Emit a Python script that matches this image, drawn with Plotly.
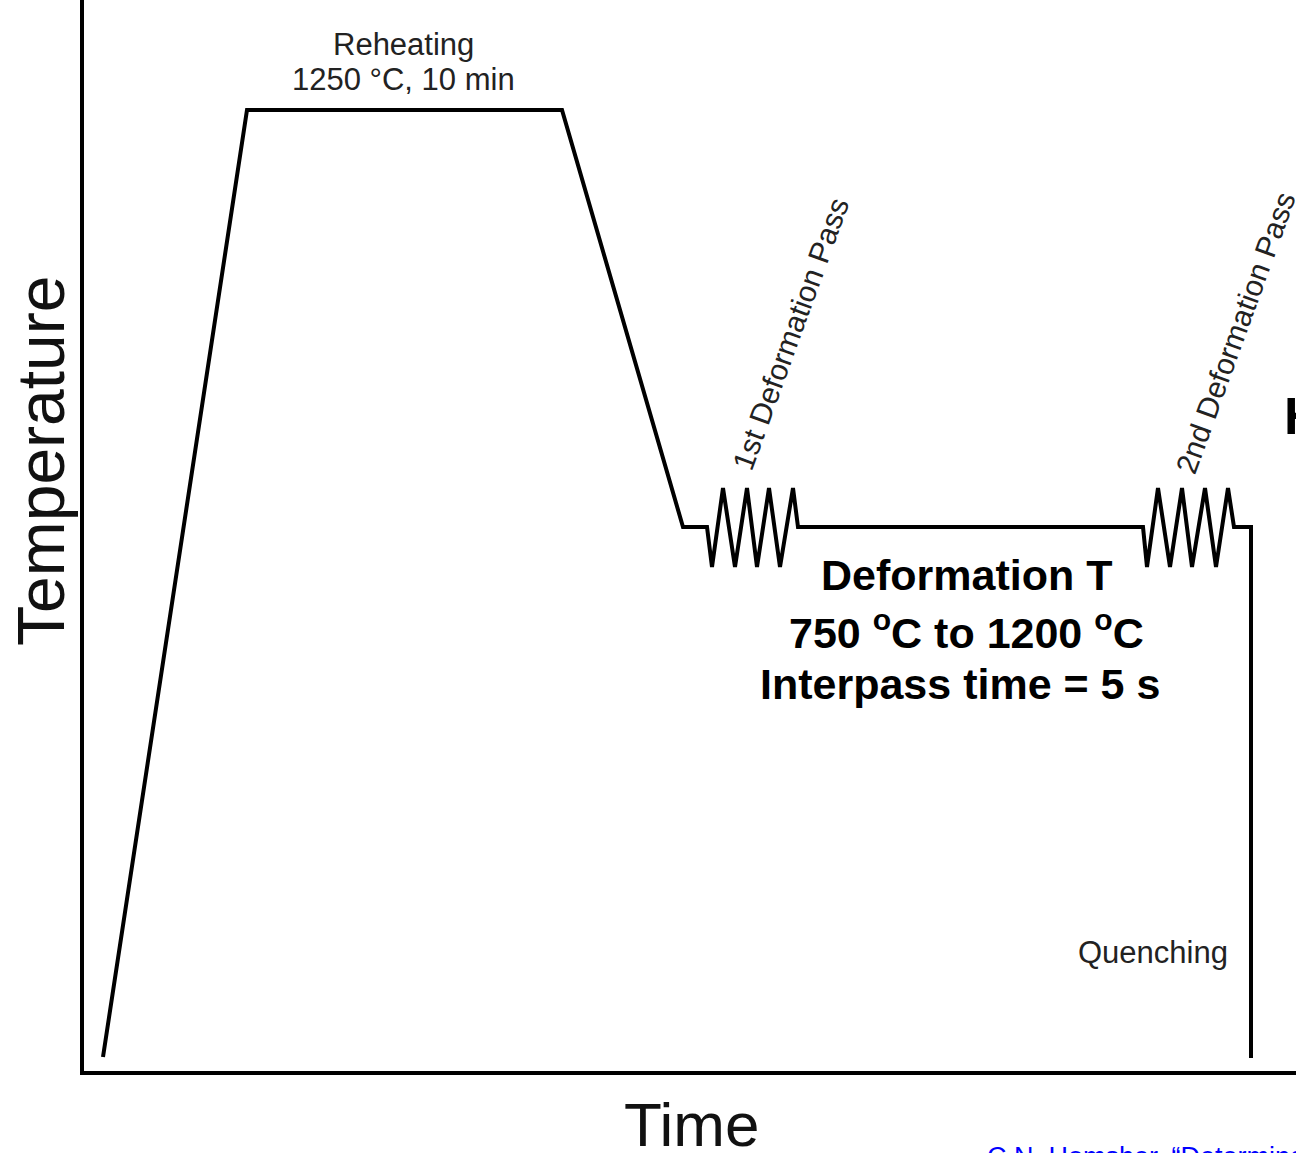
import plotly.graph_objects as go

# Schematic thermomechanical schedule (arbitrary time / temperature units)
time = [19, 163, 478, 599, 623,
        628, 639, 651, 663, 673, 685, 696, 709, 714,
        1059,
        1063, 1074, 1086, 1098, 1108, 1121, 1132, 1144, 1150,
        1167, 1167]
temperature = [14, 961, 961, 544, 544,
               504, 583, 504, 583, 504, 583, 504, 583, 544,
               544,
               504, 583, 504, 583, 504, 583, 504, 583, 544,
               544, 13]

FONT = "Liberation Sans, Arial, sans-serif"
W, H = 1296, 1153
L, B = 84, 82

fig = go.Figure()
fig.add_trace(go.Scatter(
    x=time, y=temperature, mode="lines",
    line=dict(color="black", width=4),
    hoverinfo="skip", showlegend=False,
))


def note(text, xp, yp, size, bold=False, angle=0, color="black",
         xanchor="center", yanchor="middle"):
    # positions given in page pixels, placed on the paper coordinate frame
    fig.add_annotation(
        x=(xp - L) / (W - L), y=((H - B) - yp) / (H - B),
        xref="paper", yref="paper",
        text=f"<b>{text}</b>" if bold else text,
        showarrow=False, textangle=angle, xanchor=xanchor, yanchor=yanchor,
        font=dict(family=FONT, size=size, color=color),
    )


note("Reheating", 404, 45, 31, color="#222222")
note("1250 °C, 10 min", 404, 80, 31, color="#222222")
note("1st Deformation Pass", 790, 334, 30, angle=-70, color="#222222")
note("2nd Deformation Pass", 1235, 333, 30, angle=-70, color="#222222")
note("Deformation T", 966, 575, 43, bold=True)
note("750 <sup>o</sup>C to 1200 <sup>o</sup>C", 966, 630, 43, bold=True)
note("Interpass time = 5 s", 960, 684, 43, bold=True)
note("Quenching", 1153, 952, 31, color="#222222")
note("H", 1282, 416, 52, bold=True, xanchor="left")
note("Temperature", 41, 461, 66, angle=-90, color="#111111")
note("Time", 691, 1124, 62, color="#111111")
note("C.N. Homsher, “Determination", 985, 1140, 27,
     color="#0000ff", xanchor="left", yanchor="top")

fig.update_xaxes(range=[0, W - L], showgrid=False, zeroline=False,
                 showticklabels=False, ticks="", showline=True,
                 linecolor="black", linewidth=4, fixedrange=True)
fig.update_yaxes(range=[0, H - B], showgrid=False, zeroline=False,
                 showticklabels=False, ticks="", showline=True,
                 linecolor="black", linewidth=4, fixedrange=True)

fig.update_layout(
    width=W, height=H, autosize=False,
    margin=dict(l=L, r=0, t=0, b=B, pad=0),
    paper_bgcolor="white", plot_bgcolor="white",
    showlegend=False,
)

fig.write_html("out.html", config={"displayModeBar": False})
